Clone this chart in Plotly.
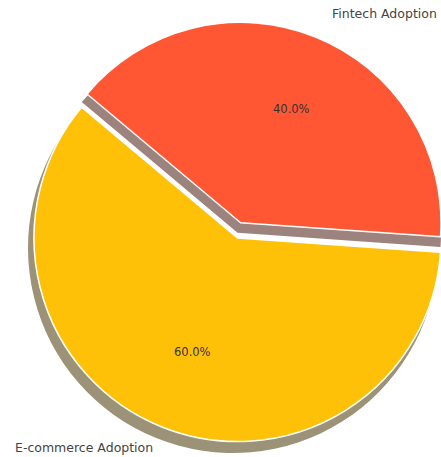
import math
import plotly.graph_objects as go

# ---- data ----
labels = ["E-commerce Adoption", "Fintech Adoption"]
values = [60, 40]
colors = ["#FFC107", "#FF5733"]
explode = [0.0, 0.08]
start_angle = 140  # degrees, matplotlib-style (counter-clockwise from 3 o'clock)

# ---- layout geometry (px) ----
W, H = 441, 457
CX, CY, R = 239, 238, 205
SHX, SHY = -6, 10  # shadow offset


def shadow_color(hexc):
    r, g, b = int(hexc[1:3], 16), int(hexc[3:5], 16), int(hexc[5:7], 16)
    f = lambda c: int(round(0.5 * 0.3 * c + 0.5 * 235))
    return "rgb(%d,%d,%d)" % (f(r), f(g), f(b))


def domain(cx, cy, r):
    x0, x1 = max(cx - r, 0), min(cx + r, W)
    y0, y1 = max(cy - r, 0), min(cy + r, H)
    return dict(x=[x0 / W, x1 / W], y=[1 - y1 / H, 1 - y0 / H])


total = sum(values)
mids, offsets = [], []
a = start_angle
for v, e in zip(values, explode):
    span = 360.0 * v / total
    mid = math.radians(a + span / 2)
    mids.append(mid)
    offsets.append((e * R * math.cos(mid), -e * R * math.sin(mid)))
    a += span

# plotly (counterclockwise): rotation marks the end of the first slice,
# measured clockwise from 12 o'clock
rotation = 90 - (start_angle + 360.0 * values[0] / total)
while rotation < -360:
    rotation += 360

fig = go.Figure()


def add_slice(i, color, dx, dy, line_w):
    cols = ["rgba(0,0,0,0)"] * len(values)
    cols[i] = color
    lw = [0] * len(values)
    lw[i] = line_w
    fig.add_trace(go.Pie(
        labels=labels, values=values, sort=False, direction="counterclockwise",
        rotation=rotation,
        marker=dict(colors=cols, line=dict(color="white", width=lw)),
        textinfo="none", hoverinfo="skip", showlegend=False,
        domain=domain(CX + dx, CY + dy, R),
    ))

# shadows first
for i in range(len(values)):
    ox, oy = offsets[i]
    add_slice(i, shadow_color(colors[i]), ox + SHX, oy + SHY, 0)
# wedges
for i in range(len(values)):
    ox, oy = offsets[i]
    add_slice(i, colors[i], ox, oy, 1.5)

annotations = []
for i in range(len(values)):
    mid = mids[i]
    c, s = math.cos(mid), math.sin(mid)
    e = explode[i] * R
    # percent text
    d = 0.6 * R + e
    px, py = CX + d * c, CY - d * s
    annotations.append(dict(
        x=px / W, y=1 - py / H, xref="paper", yref="paper", showarrow=False,
        text="%.1f%%" % (100.0 * values[i] / total),
        font=dict(family="DejaVu Sans", size=11.5, color="#333333"),
        xanchor="center", yanchor="middle"))
    # label
    d = 1.1 * R + e
    lx, ly = CX + d * c, CY - d * s
    annotations.append(dict(
        x=lx / W, y=1 - ly / H, xref="paper", yref="paper", showarrow=False,
        text=labels[i],
        font=dict(family="DejaVu Sans", size=12.5, color="#444444"),
        xanchor="left" if c > 0 else "right", yanchor="middle"))

fig.update_layout(
    width=W, height=H, margin=dict(l=0, r=0, t=0, b=0),
    paper_bgcolor="white", plot_bgcolor="white",
    annotations=annotations, showlegend=False,
)

fig.write_html("out.html")
